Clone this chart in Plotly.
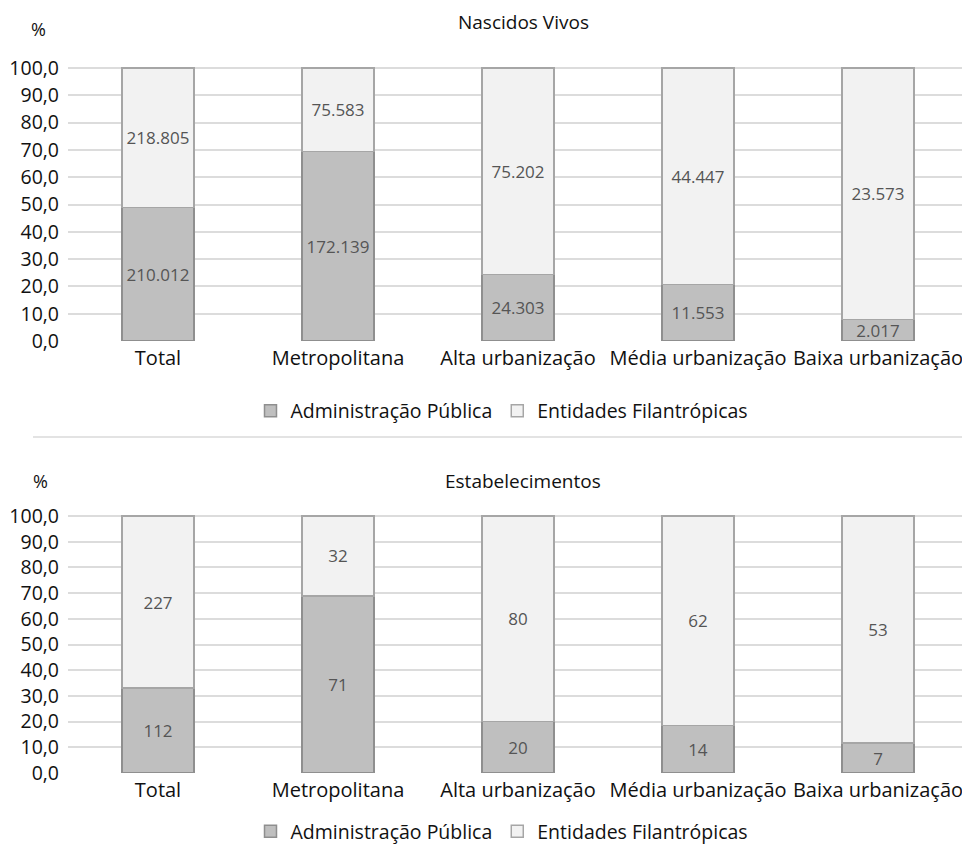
import plotly.graph_objects as go

categories = ["Total", "Metropolitana", "Alta urbanização", "Média urbanização", "Baixa urbanização"]
nascidos_admin = [210012, 172139, 24303, 11553, 2017]
nascidos_filan = [218805, 75583, 75202, 44447, 23573]
estab_admin = [112, 71, 20, 14, 7]
estab_filan = [227, 32, 80, 62, 53]
series_names = ["Administração Pública", "Entidades Filantrópicas"]
titles = ["Nascidos Vivos", "Estabelecimentos"]
y_ticks = [0, 10, 20, 30, 40, 50, 60, 70, 80, 90, 100]


def pct(a, b):
    return [100 * x / (x + y) for x, y in zip(a, b)]


def fmt(v):
    return f"{v:,}".replace(",", ".")


FONT = "Open Sans"
ADMIN_FILL, ADMIN_LINE = "#bfbfbf", "#8f8f8f"
FILAN_FILL, FILAN_LINE = "#f2f2f2", "#a6a6a6"

# page body has an 8px margin; figure sized so the page does not overflow
W, H = 954, 837
OFF = 8


def px(xs):
    return (xs - OFF) / W


def py(ys):
    return 1 - (ys - OFF) / H


fig = go.Figure()

panels = [
    (nascidos_admin, nascidos_filan, "x", "y", "legend"),
    (estab_admin, estab_filan, "x2", "y2", "legend2"),
]
for admin, filan, xa, ya, leg in panels:
    for vals, other, name, fill, line, first in [
        (admin, filan, series_names[0], ADMIN_FILL, ADMIN_LINE, True),
        (filan, admin, series_names[1], FILAN_FILL, FILAN_LINE, False),
    ]:
        y = pct(vals, other) if first else [100 - p for p in pct(other, vals)]
        fig.add_trace(go.Bar(
            x=categories, y=y, name=name, xaxis=xa, yaxis=ya, legend=leg,
            text=[fmt(v) for v in vals], textposition="inside",
            insidetextanchor="middle", textangle=0, constraintext="none",
            textfont=dict(family=FONT, size=17, color="#555555"),
            marker=dict(color=fill, line=dict(color=line, width=1.5)),
            hoverinfo="skip",
        ))

xdom = [px(68), 1.0]
xrange_ = [-0.5, 4.5 - 6 / 180]
top_dom = [py(341), py(68 - 2.73)]
bot_dom = [py(773), py(516 - 2.57)]

yax = dict(range=[0, 101], tickvals=y_ticks, tickformat=".1f", showgrid=True,
           gridcolor="#dcdcdc", gridwidth=2, zeroline=False, showline=False,
           ticks="", tickfont=dict(family=FONT, size=19.5, color="#111111"),
           ticklabelstandoff=8, fixedrange=True, automargin=False)
xax = dict(domain=xdom, range=xrange_, showline=False, ticks="", showgrid=False,
           automargin=False, ticklabelstandoff=3,
           tickfont=dict(family=FONT, size=20, color="#111111"), fixedrange=True)

leg = dict(orientation="h", xanchor="center", x=px(502),
           font=dict(family=FONT, size=19.5, color="#111111"),
           bgcolor="rgba(0,0,0,0)", itemwidth=30, traceorder="normal")

ann_font = dict(family=FONT, size=19, color="#111111")
pct_font = dict(family=FONT, size=18, color="#111111")

fig.update_layout(
    width=W, height=H,
    margin=dict(l=0, r=0, t=0, b=0, pad=0, autoexpand=False),
    paper_bgcolor="white", plot_bgcolor="white",
    barmode="stack", bargap=0.6,
    separators=",.",
    showlegend=True,
    font=dict(family=FONT, color="#111111"),
    xaxis=dict(**xax, anchor="y"),
    yaxis=dict(**yax, domain=top_dom, anchor="x"),
    xaxis2=dict(**xax, anchor="y2"),
    yaxis2=dict(**yax, domain=bot_dom, anchor="x2"),
    legend=dict(**leg, y=py(411), yanchor="middle"),
    legend2=dict(**leg, y=-6 / H, yanchor="bottom"),
    annotations=[
        dict(text=titles[0], x=px(523), y=py(22), xref="paper", yref="paper",
             xanchor="center", yanchor="middle", showarrow=False, font=ann_font),
        dict(text=titles[1], x=px(523), y=py(481), xref="paper", yref="paper",
             xanchor="center", yanchor="middle", showarrow=False, font=ann_font),
        dict(text="%", x=px(38), y=py(29), xref="paper", yref="paper",
             xanchor="center", yanchor="middle", showarrow=False, font=pct_font),
        dict(text="%", x=px(40), y=py(481), xref="paper", yref="paper",
             xanchor="center", yanchor="middle", showarrow=False, font=pct_font),
    ],
    shapes=[dict(type="line", xref="paper", yref="paper", x0=px(33), x1=1,
                 y0=py(437), y1=py(437), line=dict(color="#e3e3e3", width=2))],
)

fig.write_html("out.html")
